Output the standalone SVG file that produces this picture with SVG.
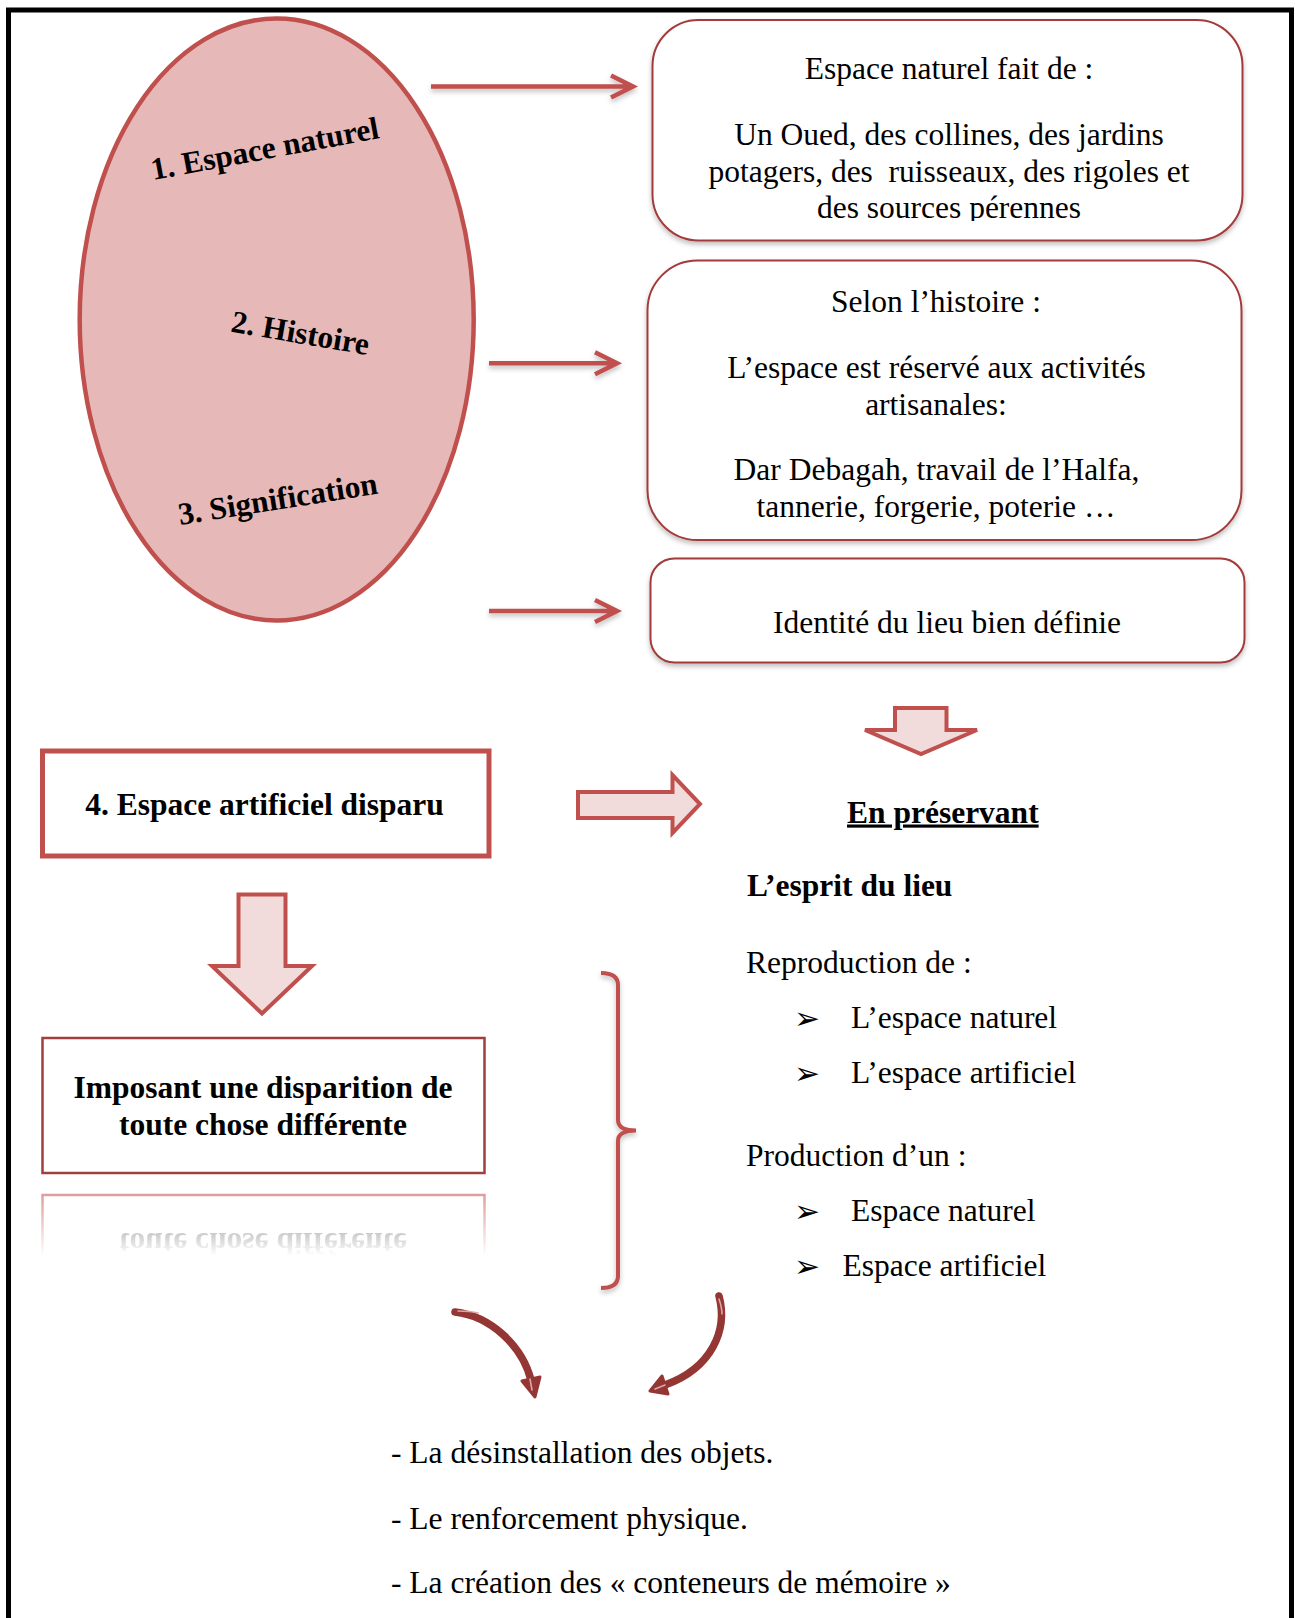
<svg xmlns="http://www.w3.org/2000/svg" width="1295" height="1618" viewBox="0 0 1295 1618">
<defs>
<style>
.t{font-family:"Liberation Serif","Times New Roman",serif;font-size:31.5px;fill:#000}
.b{font-weight:bold}
.m{text-anchor:middle}
.rbox{fill:#fff;stroke:#a33a3a;stroke-width:2}
.thin{fill:none;stroke:#c0504d;stroke-width:4.5;stroke-linecap:butt}
.blk{fill:#f2dcdb;stroke:#c0504d;stroke-width:4;stroke-linejoin:miter}
.curv{fill:none;stroke:#943634;stroke-width:7.5;stroke-linecap:round}
.hl{fill:none;stroke:#dba7a6;stroke-width:1.6;stroke-linecap:round}
.bul{font-family:"DejaVu Sans",sans-serif;font-size:31px}
</style>
<filter id="sh" x="-10%" y="-10%" width="120%" height="130%">
<feDropShadow dx="0" dy="3" stdDeviation="2.5" flood-color="#000" flood-opacity="0.25"/>
</filter>
<clipPath id="c1"><rect x="640" y="0" width="620" height="221"/></clipPath>
<linearGradient id="fade" x1="0" y1="1195" x2="0" y2="1256" gradientUnits="userSpaceOnUse">
<stop offset="0" stop-color="#fff" stop-opacity="0.55"/>
<stop offset="1" stop-color="#fff" stop-opacity="0"/>
</linearGradient>
<mask id="fm"><rect x="0" y="1190" width="600" height="80" fill="url(#fade)"/></mask>
</defs>
<rect width="1295" height="1618" fill="#fff"/>
<rect id="frame" x="8.5" y="10" width="1283" height="1650" fill="none" stroke="#000" stroke-width="5"/>

<g id="ellipse">
<ellipse cx="276.7" cy="319.5" rx="197" ry="301" fill="#e6b9b8" stroke="#c0504d" stroke-width="4.5"/>
<text class="t b" transform="translate(153,180) rotate(-10.5)">1. Espace naturel</text>
<text class="t b" transform="translate(230,331.5) rotate(9.7)">2. Histoire</text>
<text class="t b" transform="translate(180,525) rotate(-9)">3. Signification</text>
</g>

<g id="box-naturel">
<rect class="rbox" x="652.5" y="20" width="590" height="220.5" rx="46" filter="url(#sh)"/>
<text class="t m" x="949" y="79">Espace naturel fait de :</text>
<g clip-path="url(#c1)">
<text class="t m" x="949" y="144.5">Un Oued, des collines, des jardins</text>
<text class="t m" x="949" y="181.5" xml:space="preserve">potagers, des  ruisseaux, des rigoles et</text>
<text class="t m" x="949" y="217.7">des sources pérennes</text>
</g>
</g>

<g id="box-histoire">
<rect class="rbox" x="647.5" y="260.5" width="594" height="279.5" rx="50" filter="url(#sh)"/>
<text class="t m" x="936" y="311.6">Selon l’histoire :</text>
<text class="t m" x="936.5" y="377.7">L’espace est réservé aux activités</text>
<text class="t m" x="936" y="414.5">artisanales:</text>
<text class="t m" x="936.5" y="480">Dar Debagah, travail de l’Halfa,</text>
<text class="t m" x="936" y="517">tannerie, forgerie, poterie …</text>
</g>

<g id="box-identite">
<rect class="rbox" x="650.5" y="558.5" width="594" height="104" rx="24" filter="url(#sh)"/>
<text class="t m" x="947" y="633">Identité du lieu bien définie</text>
</g>

<g id="box-artificiel">
<rect x="42.5" y="751" width="446.5" height="105" fill="#fff" stroke="#c0504d" stroke-width="5"/>
<text class="t b m" x="264.5" y="814.5">4. Espace artificiel disparu</text>
</g>

<g id="box-imposant">
<rect x="42.5" y="1038" width="442" height="135" fill="#fff" stroke="#a0403d" stroke-width="2.5"/>
<text class="t b m" x="263" y="1098">Imposant une disparition de</text>
<text class="t b m" x="263" y="1135">toute chose différente</text>
</g>

<g id="reflection" mask="url(#fm)">
<g transform="translate(0,2368) scale(1,-1)">
<rect x="42.5" y="1038" width="442" height="135" fill="none" stroke="#c0504d" stroke-width="2.5"/>
<text class="t b m" x="263" y="1135">toute chose différente</text>
</g>
</g>

<g id="preservant">
<text class="t b" x="847" y="822.5" text-decoration="underline">En préservant</text>
<text class="t b" x="747" y="896">L’esprit du lieu</text>
<text class="t" x="746" y="972.5">Reproduction de :</text>
<text class="bul" x="794" y="1029">➢</text>
<text class="t" x="851" y="1028">L’espace naturel</text>
<text class="bul" x="794" y="1084">➢</text>
<text class="t" x="851" y="1083">L’espace artificiel</text>
<text class="t" x="746" y="1165.5">Production d’un :</text>
<text class="bul" x="794" y="1222">➢</text>
<text class="t" x="851" y="1221">Espace naturel</text>
<text class="bul" x="794" y="1277">➢</text>
<text class="t" x="842.5" y="1276">Espace artificiel</text>
</g>

<g id="actions">
<text class="t" x="391" y="1463">- La désinstallation des objets.</text>
<text class="t" x="391" y="1528.5">- Le renforcement physique.</text>
<text class="t" x="391" y="1593">- La création des « conteneurs de mémoire »</text>
</g>

<g id="connectors">
<g filter="url(#sh)">
<path class="thin" d="M431,86.5 H632 M611,75.5 L633,86.5 L611,97.5"/>
<path class="thin" d="M489,363.3 H616 M595,352.3 L617,363.3 L595,374.3"/>
<path class="thin" d="M489,611 H616 M595,600 L617,611 L595,622"/>
</g>
<path class="blk" d="M895,708 H946.5 V730 H977 L921,754 L865,730 H895 Z"/>
<path class="blk" d="M578,792 H672.5 V775 L700,804 L672.5,833 V818 H578 Z"/>
<path class="blk" d="M238.5,894.5 H285.5 V966 H312 L262,1013.5 L212,966 H238.5 Z"/>
<path d="M601,973 Q618,973 618,985 V1120 Q618,1130.5 636,1130.5 Q618,1130.5 618,1141 V1276 Q618,1288 601,1288" fill="none" stroke="#c0504d" stroke-width="4" filter="url(#sh)"/>
<path class="curv" d="M455,1312 C490,1316 522,1345 531,1380"/>
<path d="M535,1397 L522,1381 L540,1377 Z" fill="#943634" stroke="#943634" stroke-width="3" stroke-linejoin="round"/>
<path class="hl" d="M458,1311 C468,1311 474,1312 478,1313"/>
<path class="hl" d="M530,1379 L532,1390"/>
<path class="curv" d="M719,1296 C728,1330 712,1368 665,1385"/>
<path d="M650,1391 L662,1376 L668,1394 Z" fill="#943634" stroke="#943634" stroke-width="3" stroke-linejoin="round"/>
<path class="hl" d="M719,1299 C721,1305 722,1310 722,1314"/>
<path class="hl" d="M665,1385 L655,1389"/>
</g>
</svg>
